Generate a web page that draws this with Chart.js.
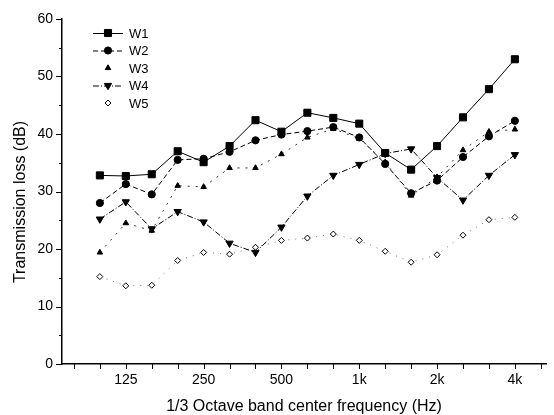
<!DOCTYPE html>
<html>
<head>
<meta charset="utf-8">
<script src="https://cdn.jsdelivr.net/npm/chart.js@4/dist/chart.umd.min.js"></script>
<style>
body { margin: 0; background: #fff; }
#wrap { width: 554px; height: 415px; }
</style>
</head>
<body>
<div id="wrap"><canvas id="tlChart"></canvas></div>
<script>
// 1/3 octave band centres (Hz)
const bands = ['100', '125', '160', '200', '250', '315', '400', '500', '630', '800',
               '1k', '1.25k', '1.6k', '2k', '2.5k', '3.15k', '4k'];
const labelledBands = ['125', '250', '500', '1k', '2k', '4k'];
const yTicks = [0, 10, 20, 30, 40, 50, 60];

// transmission loss (dB)
const w1 = [32.8, 32.7, 33.0, 37.0, 35.1, 37.9, 42.4, 40.4, 43.7, 42.8, 41.8, 36.7, 33.8, 37.9, 42.9, 47.8, 53.0];
const w2 = [28.0, 31.3, 29.5, 35.5, 35.7, 36.9, 38.9, 39.9, 40.5, 41.2, 39.4, 34.8, 29.7, 31.9, 36.0, 39.6, 42.3];
const w3 = [19.4, 24.5, 23.2, 31.0, 30.8, 34.1, 34.1, 36.5, 39.4, 40.9, 39.2, 35.1, 29.3, 32.5, 37.2, 40.4, 40.8];
const w4 = [25.2, 28.2, 23.5, 26.5, 24.7, 21.0, 19.4, 23.8, 29.2, 32.8, 34.7, 36.6, 37.4, 32.4, 28.5, 32.8, 36.4];
const w5 = [15.2, 13.6, 13.7, 18.0, 19.4, 19.1, 20.3, 21.5, 21.9, 22.6, 21.5, 19.6, 17.7, 19.0, 22.4, 25.1, 25.5];

const toPoints = arr => arr.map((v, i) => ({ x: i, y: v }));

Chart.defaults.font.family = '"Liberation Sans", Arial, sans-serif';
Chart.defaults.color = '#000';

// Origin style tick marks: outward, minor ticks at 5 dB on the y axis
const tickMarks = {
    id: 'tickMarks',
    afterDraw(chart) {
        const { ctx, scales: { x, y } } = chart;
        ctx.save();
        ctx.strokeStyle = '#000';
        ctx.lineWidth = 1;
        ctx.beginPath();
        for (let v = 0; v <= 60; v += 5) {
            const py = Math.round(y.getPixelForValue(v)) + 0.5;
            const len = v % 10 === 0 ? 6 : 3;
            ctx.moveTo(x.left - len, py);
            ctx.lineTo(x.left, py);
        }
        x.ticks.forEach(t => {
            const px = Math.round(x.getPixelForValue(t.value)) + 0.5;
            ctx.moveTo(px, y.bottom);
            ctx.lineTo(px, y.bottom + 5);
        });
        ctx.stroke();

        // y axis title, sits a little below the middle in the original
        ctx.translate(21, 202);
        ctx.rotate(-Math.PI / 2);
        ctx.fillStyle = '#000';
        ctx.font = '16px "Liberation Sans", Arial, sans-serif';
        ctx.textAlign = 'center';
        ctx.textBaseline = 'middle';
        ctx.fillText('Transmission loss (dB)', 0, 0);
        ctx.restore();
    }
};

// legend drawn inside the plot, top left
const innerLegend = {
    id: 'innerLegend',
    afterDraw(chart) {
        const ctx = chart.ctx;
        const x0 = 93, x1 = 123, top = 33, step = 17.5;
        ctx.save();
        chart.data.datasets.forEach((ds, i) => {
            const yy = top + i * step;
            const mx = (x0 + x1) / 2;
            if (ds.legendLine) {
                ctx.strokeStyle = ds.borderColor;
                ctx.lineWidth = ds.borderWidth;
                ctx.setLineDash(ds.borderDash || []);
                ctx.beginPath();
                ctx.moveTo(x0, yy + 0.5);
                ctx.lineTo(x1, yy + 0.5);
                ctx.stroke();
            }
            ctx.setLineDash([]);
            ctx.fillStyle = ds.pointBackgroundColor;
            ctx.strokeStyle = ds.pointBorderColor;
            ctx.lineWidth = 1;
            Chart.helpers.drawPoint(ctx, {
                pointStyle: ds.pointStyle,
                rotation: ds.pointRotation || 0,
                radius: ds.pointRadius,
                borderWidth: 1
            }, mx, yy);
            ctx.fillStyle = '#000';
            ctx.font = '13px "Liberation Sans", Arial, sans-serif';
            ctx.textBaseline = 'middle';
            ctx.fillText(ds.label, 129, yy + 1);
        });
        ctx.restore();
    }
};

const ctx = document.getElementById('tlChart').getContext('2d');
new Chart(ctx, {
    type: 'line',
    data: {
        datasets: [
            { label: 'W1', data: toPoints(w1), borderColor: '#000', borderWidth: 1, borderDash: [],
              pointStyle: 'rect', pointRadius: 5, pointBackgroundColor: '#000', pointBorderColor: '#000', legendLine: true },
            { label: 'W2', data: toPoints(w2), borderColor: '#000', borderWidth: 1, borderDash: [5, 3],
              pointStyle: 'circle', pointRadius: 3.6, pointBackgroundColor: '#000', pointBorderColor: '#000', legendLine: true },
            { label: 'W3', data: toPoints(w3), borderColor: '#333', borderWidth: 1, borderDash: [2, 6],
              pointStyle: 'triangle', pointRadius: 3.2, pointBackgroundColor: '#000', pointBorderColor: '#000', legendLine: false },
            { label: 'W4', data: toPoints(w4), borderColor: '#000', borderWidth: 1, borderDash: [6, 2, 1, 2],
              pointStyle: 'triangle', pointRotation: 180, pointRadius: 4.2, pointBackgroundColor: '#000', pointBorderColor: '#000', legendLine: true },
            { label: 'W5', data: toPoints(w5), borderColor: '#777', borderWidth: 1, borderDash: [1, 6],
              pointStyle: 'rectRot', pointRadius: 3, pointBackgroundColor: '#fff', pointBorderColor: '#000', legendLine: false }
        ]
    },
    options: {
        responsive: true,
        maintainAspectRatio: false,
        animation: false,
        layout: { padding: { top: 19, right: 8, left: 0, bottom: 0 } },
        plugins: { legend: { display: false }, tooltip: { enabled: false } },
        elements: { line: { tension: 0 }, point: { borderWidth: 1 } },
        scales: {
            x: {
                type: 'linear',
                min: -1.46,
                max: 17.2,
                afterFit: s => { s.height = 51; },
                grid: { display: true, drawOnChartArea: false, drawTicks: false },
                border: { display: true, color: '#000', width: 1.5 },
                ticks: {
                    stepSize: 1,
                    includeBounds: false,
                    autoSkip: false,
                    maxRotation: 0,
                    padding: 8,
                    font: { size: 14 },
                    callback: v => {
                        const name = bands[v];
                        return labelledBands.includes(name) ? name : '';
                    }
                },
                title: {
                    display: true,
                    text: '1/3 Octave band center frequency (Hz)',
                    font: { size: 16 },
                    padding: { top: 0, bottom: -1 }
                }
            },
            y: {
                min: 0,
                max: 60,
                afterFit: s => { s.width = 62; },
                afterBuildTicks: s => { s.ticks = yTicks.map(v => ({ value: v })); },
                grid: { display: true, drawOnChartArea: false, drawTicks: false },
                border: { display: true, color: '#000', width: 1.5 },
                ticks: { padding: 9, font: { size: 14 } },
                title: { display: false }
            }
        }
    },
    plugins: [tickMarks, innerLegend]
});
</script>
</body>
</html>
